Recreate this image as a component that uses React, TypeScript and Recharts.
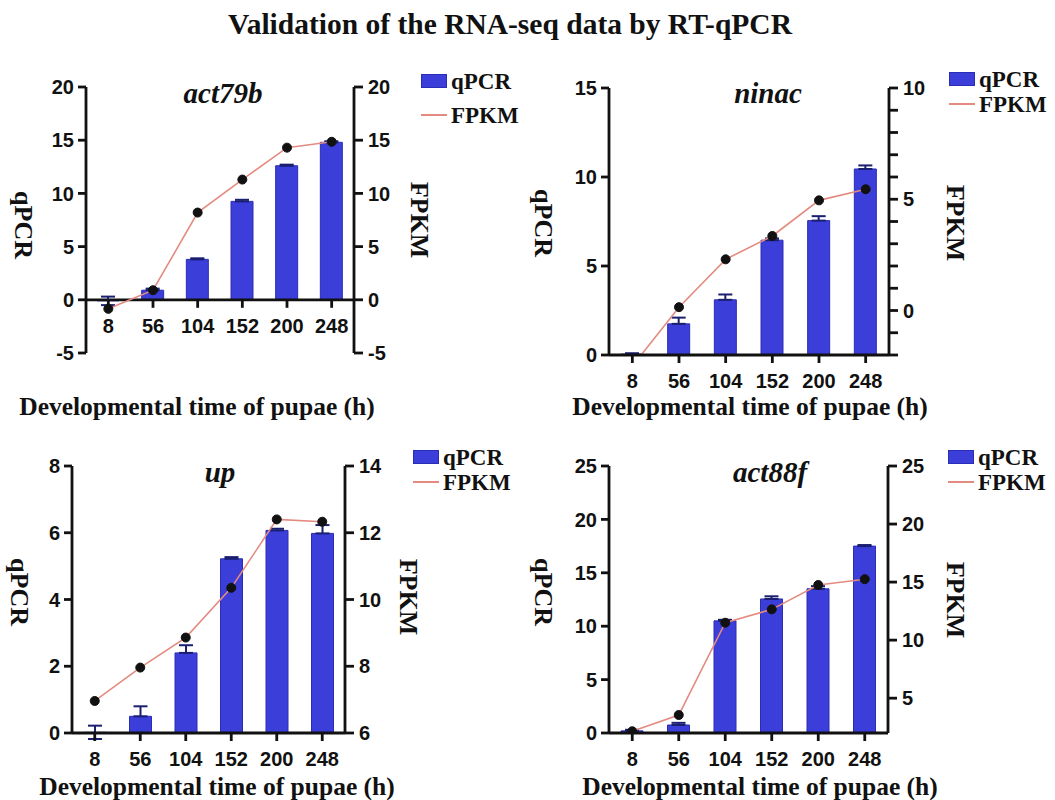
import React from "react";
import {
  ComposedChart,
  Bar,
  Line,
  XAxis,
  YAxis,
  ErrorBar,
  ReferenceLine,
  Legend
} from "recharts";

// DATA
const hours = ["8", "56", "104", "152", "200", "248"];

// act79b
const act79bQpcr = [-0.1, 0.9, 3.8, 9.25, 12.6, 14.8];
const act79bErr = [[0.4, 0.4], [0, 0.15], [0, 0.1], [0, 0.15], [0, 0.1], [0, 0.1]];
const act79bFpkm = [-0.85, 0.9, 8.2, 11.3, 14.3, 14.85];
const act79bLeftTicks = [-5, 0, 5, 10, 15, 20];
const act79bRightTicks = [-5, 0, 5, 10, 15, 20];

// ninac
const ninacQpcr = [0.05, 1.75, 3.1, 6.45, 7.55, 10.45];
const ninacErr = [[0, 0.05], [0, 0.35], [0, 0.3], [0, 0.1], [0, 0.25], [0, 0.2]];
const ninacFpkm = [-2.5, 0.15, 2.3, 3.35, 4.95, 5.45];
const ninacLeftTicks = [0, 5, 10, 15];
const ninacRightTicks = [-2, -1, 0, 1, 2, 3, 4, 5, 6, 7, 8, 9, 10];

// up
const upQpcr = [0.02, 0.5, 2.4, 5.22, 6.07, 5.98];
const upErr = [[0.2, 0.2], [0, 0.3], [0, 0.23], [0, 0.05], [0, 0.05], [0, 0.25]];
const upFpkm = [6.96, 7.96, 8.86, 10.35, 12.4, 12.33];
const upLeftTicks = [0, 2, 4, 6, 8];
const upRightTicks = [6, 8, 10, 12, 14];

// act88f
const act88fQpcr = [0.2, 0.75, 10.5, 12.55, 13.5, 17.5];
const act88fErr = [[0, 0.1], [0, 0.2], [0, 0.1], [0, 0.25], [0, 0.25], [0, 0.1]];
const act88fFpkm = [2.15, 3.55, 11.5, 12.65, 14.75, 15.25];
const act88fLeftTicks = [0, 5, 10, 15, 20, 25];
const act88fRightTicks = [5, 10, 15, 20, 25];

const BAR_COLOR = "#3b3ed8";
const LINE_COLOR = "#e38b80";
const INK = "#111";
const SERIF = "'Liberation Serif', 'Times New Roman', serif";
const SANS = "'Liberation Sans', Arial, sans-serif";

const AXIS_W = 60;
const XAXIS_H = 40;
const TOP = 10;
const EXTRA_R = 140;

const tickFont = {
  fill: INK,
  fontSize: 20,
  fontWeight: 700,
  fontFamily: SANS
};

function Txt({ cx, cy, rotate = 0, style, children }: any) {
  return (
    <div
      style={{
        position: "absolute",
        left: cx,
        top: cy,
        transform: `translate(-50%, -50%) rotate(${rotate}deg)`,
        whiteSpace: "nowrap",
        lineHeight: 1,
        color: INK,
        fontFamily: SERIF,
        fontWeight: 700,
        ...style
      }}
    >
      {children}
    </div>
  );
}

function HourTick({ x, y, payload, shift }: any) {
  const y0 = y - shift;
  return (
    <g>
      <line x1={x} y1={y0} x2={x} y2={y0 + 8} stroke={INK} strokeWidth={2.8} />
      <text x={x} y={y0 + 33} textAnchor="middle" {...tickFont}>
        {payload.value}
      </text>
    </g>
  );
}

function LegendBox({ payload, gap }: any) {
  const items = [...(payload || [])].sort((a: any, b: any) =>
    a.type === "square" ? -1 : b.type === "square" ? 1 : 0
  );
  return (
    <div>
      {items.map((entry: any) => (
        <div
          key={entry.value}
          style={{ display: "flex", alignItems: "center", height: gap }}
        >
          {entry.type === "square" ? (
            <span
              style={{
                display: "inline-block",
                width: 26,
                height: 14,
                background: BAR_COLOR,
                border: "1px solid #2a2db5",
                boxSizing: "border-box"
              }}
            />
          ) : (
            <span
              style={{
                display: "inline-block",
                width: 26,
                height: 2,
                background: LINE_COLOR
              }}
            />
          )}
          <span
            style={{
              marginLeft: 4,
              fontFamily: SERIF,
              fontWeight: 700,
              fontSize: 23,
              color: INK,
              lineHeight: 1
            }}
          >
            {entry.value}
          </span>
        </div>
      ))}
    </div>
  );
}

function Panel({
  gene,
  qpcr,
  err,
  fpkm,
  leftTicks,
  rightTicks,
  rightDomain,
  rightLabelEvery,
  box,
  legend,
  labels,
  xAtZero
}: any) {
  const data = hours.map((h, i) => ({
    hour: h,
    qpcr: qpcr[i],
    err: err[i],
    fpkm: fpkm[i]
  }));

  const plotW = box.right - box.left;
  const plotH = box.bottom - box.top;
  const leftMin = leftTicks[0];
  const leftMax = leftTicks[leftTicks.length - 1];
  const shift = xAtZero ? (plotH * (0 - leftMin)) / (leftMax - leftMin) : 0;

  const chartLeft = box.left - AXIS_W;
  const chartTop = box.top - TOP;

  return (
    <>
      <div style={{ position: "absolute", left: chartLeft, top: chartTop }}>
        <ComposedChart
          width={plotW + AXIS_W * 2 + EXTRA_R}
          height={TOP + plotH + XAXIS_H}
          data={data}
          margin={{ top: TOP, right: EXTRA_R, bottom: 0, left: 0 }}
        >
          <XAxis
            dataKey="hour"
            height={XAXIS_H}
            axisLine={xAtZero ? false : { stroke: INK, strokeWidth: 2.8 }}
            tickLine={false}
            tickSize={0}
            tickMargin={0}
            interval={0}
            tick={(props: any) => <HourTick {...props} shift={shift} />}
          />
          <YAxis
            yAxisId="left"
            width={AXIS_W}
            domain={[leftMin, leftMax]}
            ticks={leftTicks}
            interval={0}
            allowDataOverflow
            axisLine={{ stroke: INK, strokeWidth: 2.8 }}
            tickLine={{ stroke: INK, strokeWidth: 2.8 }}
            tickSize={8}
            tickMargin={4}
            tick={tickFont}
          />
          <YAxis
            yAxisId="right"
            orientation="right"
            width={AXIS_W}
            domain={rightDomain}
            ticks={rightTicks}
            interval={0}
            allowDataOverflow
            axisLine={{ stroke: INK, strokeWidth: 2.8 }}
            tickLine={{ stroke: INK, strokeWidth: 2.8 }}
            tickSize={9}
            tickMargin={5}
            tick={tickFont}
            tickFormatter={(v: number) =>
              rightLabelEvery ? (v % rightLabelEvery === 0 ? String(v) : "") : String(v)
            }
          />
          {xAtZero && (
            <ReferenceLine yAxisId="left" y={0} stroke={INK} strokeWidth={2.8} />
          )}
          <Bar
            yAxisId="left"
            dataKey="qpcr"
            name="qPCR"
            fill={BAR_COLOR}
            stroke="#2a2db5"
            strokeWidth={1}
            barSize={22}
            legendType="square"
            isAnimationActive={false}
          >
            <ErrorBar
              dataKey="err"
              direction="y"
              width={7}
              stroke="#1b1f70"
              strokeWidth={2}
            />
          </Bar>
          <Line
            yAxisId="right"
            dataKey="fpkm"
            name="FPKM"
            type="linear"
            stroke={LINE_COLOR}
            strokeWidth={1.6}
            dot={{ r: 4.5, fill: INK, stroke: INK, strokeWidth: 1 }}
            legendType="plainline"
            isAnimationActive={false}
          />
          <Legend
            layout="vertical"
            align="center"
            verticalAlign="middle"
            wrapperStyle={{
              left: legend.x - chartLeft,
              top: legend.y - legend.gap / 2 - chartTop,
              width: "auto",
              height: "auto"
            }}
            content={(props: any) => <LegendBox {...props} gap={legend.gap} />}
          />
        </ComposedChart>
      </div>

      <Txt cx={labels.gene[0]} cy={labels.gene[1]} style={{ fontSize: 29, fontStyle: "italic" }}>
        {gene}
      </Txt>
      <Txt cx={labels.x[0]} cy={labels.x[1]} style={{ fontSize: 25.5 }}>
        Developmental time of pupae (h)
      </Txt>
      <Txt cx={labels.left[0]} cy={labels.left[1]} rotate={90} style={{ fontSize: 26 }}>
        qPCR
      </Txt>
      <Txt cx={labels.right[0]} cy={labels.right[1]} rotate={90} style={{ fontSize: 26 }}>
        FPKM
      </Txt>
    </>
  );
}

export default function App() {
  return (
    <div
      style={{
        position: "absolute",
        left: 0,
        top: 0,
        width: 1055,
        height: 800,
        background: "#fff",
        overflow: "hidden"
      }}
    >
      <Txt cx={510} cy={25} style={{ fontSize: 29.5 }}>
        Validation of the RNA-seq data by RT-qPCR
      </Txt>

      <Panel
        gene="act79b"
        qpcr={act79bQpcr}
        err={act79bErr}
        fpkm={act79bFpkm}
        leftTicks={act79bLeftTicks}
        rightTicks={act79bRightTicks}
        rightDomain={[-5, 20]}
        box={{ left: 86, right: 354, top: 87, bottom: 353 }}
        legend={{ x: 421, y: 81, gap: 34 }}
        labels={{ gene: [223, 93], x: [197, 407], left: [23, 225], right: [419, 220] }}
        xAtZero
      />

      <Panel
        gene="ninac"
        qpcr={ninacQpcr}
        err={ninacErr}
        fpkm={ninacFpkm}
        leftTicks={ninacLeftTicks}
        rightTicks={ninacRightTicks}
        rightDomain={[-2, 10]}
        rightLabelEvery={5}
        box={{ left: 609, right: 889, top: 88, bottom: 355 }}
        legend={{ x: 949, y: 79, gap: 25 }}
        labels={{ gene: [768, 93], x: [750, 407], left: [543, 223], right: [955, 223] }}
      />

      <Panel
        gene="up"
        qpcr={upQpcr}
        err={upErr}
        fpkm={upFpkm}
        leftTicks={upLeftTicks}
        rightTicks={upRightTicks}
        rightDomain={[6, 14]}
        box={{ left: 72, right: 345, top: 466, bottom: 733 }}
        legend={{ x: 413, y: 457, gap: 25 }}
        labels={{ gene: [220, 472], x: [217, 787], left: [19, 592], right: [408, 597] }}
      />

      <Panel
        gene="act88f"
        qpcr={act88fQpcr}
        err={act88fErr}
        fpkm={act88fFpkm}
        leftTicks={act88fLeftTicks}
        rightTicks={act88fRightTicks}
        rightDomain={[2, 25]}
        box={{ left: 609, right: 888, top: 466, bottom: 733 }}
        legend={{ x: 948, y: 457, gap: 25 }}
        labels={{ gene: [770, 472], x: [760, 787], left: [543, 592], right: [955, 600] }}
      />
    </div>
  );
}
